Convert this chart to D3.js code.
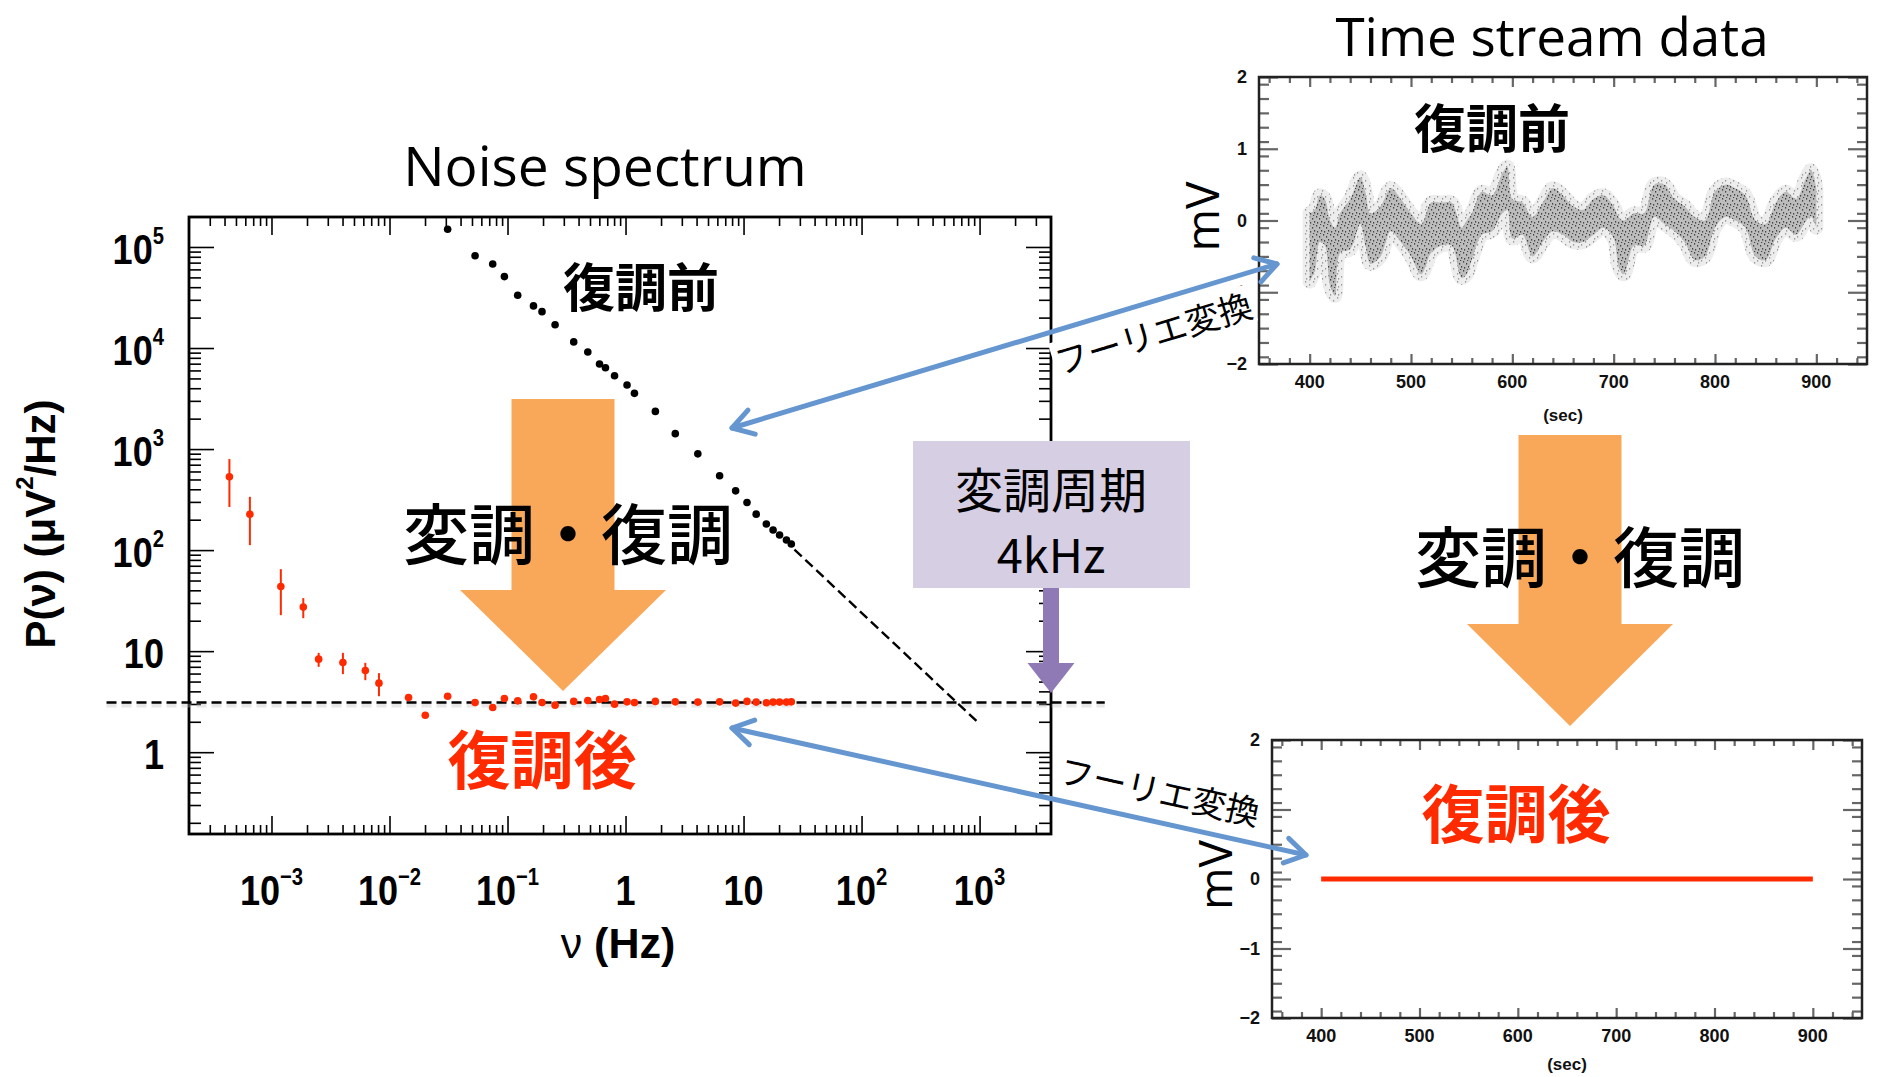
<!DOCTYPE html>
<html>
<head>
<meta charset="utf-8">
<script src="https://cdn.jsdelivr.net/npm/d3@7"></script>
<style>
  body { margin: 0; background: #fff; }
  svg { display: block; }
</style>
</head>
<body>
<script>
// ---------- noise spectrum (left) ----------
const freqHz = [4.4e-4, 6.56e-4, 1.20e-3, 1.86e-3, 2.51e-3, 4.03e-3, 6.24e-3, 8.14e-3, 0.0145, 0.0201,
  0.0311, 0.0531, 0.0749, 0.0941, 0.122, 0.166, 0.196, 0.253, 0.364, 0.479, 0.602, 0.676, 0.807,
  1.03, 1.19, 1.79, 2.64, 4.10, 6.27, 8.57, 10.7, 12.8, 15.6, 17.8, 20.2, 23.1, 25.4];
// after demodulation (red, with error bars on the low-frequency points)
const powerDemod = [532, 226, 43.7, 27.3, 8.33, 7.73, 6.44, 4.82, 3.48, 2.32,
  3.58, 3.10, 2.77, 3.40, 3.22, 3.53, 3.10, 2.92, 3.18, 3.25, 3.32, 3.40, 2.99,
  3.15, 3.10, 3.18, 3.15, 3.13, 3.15, 3.06, 3.18, 3.13, 3.08, 3.13, 3.13, 3.13, 3.15];
const errLo = [267, 112, 22.7, 21.2, 6.99, 5.92, 5.16, 3.58];
const errHi = [796, 337, 64.8, 33.5, 9.62, 9.62, 7.66, 6.06];
// before demodulation (black)
const powerRaw = [null, null, null, null, null, null, null, null, null, null,
  1.50e5, 8.20e4, 6.79e4, 5.09e4, 3.33e4, 2.61e4, 2.29e4, 1.70e4, 1.15e4, 9.12e3, 6.95e3, 6.38e3, 5.32e3,
  4.30e3, 3.56e3, 2.36e3, 1.42e3, 897, 544, 386, 296, 227, 181, 158, 141, 126, 115];
const whiteLevel = 3.1;
const whiteRange = [4e-5, 1.15e4];
const fitNorm = 3800, fitIndex = -1.1;
const fitRange = [27, 950];

const specXTicks = [1e-3, 1e-2, 1e-1, 1, 10, 100, 1000];
const specXLabels = [["10", "−3"], ["10", "−2"], ["10", "−1"], ["1", ""], ["10", ""], ["10", "2"], ["10", "3"]];
const specYTicks = [1e5, 1e4, 1e3, 1e2, 10, 1];
const specYLabels = [["10", "5"], ["10", "4"], ["10", "3"], ["10", "2"], ["10", ""], ["1", ""]];

// ---------- time streams (right) ----------
const rawT  = [400, 405, 410, 415, 420, 425, 430, 440, 450, 455, 460, 470, 480, 490, 500, 510, 520, 530, 540,
  550, 555, 560, 570, 580, 590, 595, 600, 610, 620, 630, 640, 650, 660, 670, 680, 690, 700, 705, 710,
  720, 730, 740, 750, 760, 770, 780, 790, 800, 810, 820, 830, 840, 850, 860, 870, 880, 890, 895, 900];
const rawHi = [0.10, 0.15, 0.35, 0.30, 0.00, -0.10, 0.10, 0.30, 0.60, 0.40, 0.10, 0.20, 0.45, 0.30, 0.10, -0.05, 0.25, 0.25, 0.25,
  -0.10, 0.00, 0.10, 0.40, 0.35, 0.65, 0.75, 0.30, 0.25, 0.05, 0.25, 0.45, 0.35, 0.20, 0.15, 0.30, 0.35, 0.20, 0.05, 0.00,
  0.10, 0.10, 0.50, 0.50, 0.30, 0.20, 0.05, 0.00, 0.40, 0.50, 0.45, 0.35, 0.00, -0.05, 0.25, 0.40, 0.30, 0.60, 0.70, 0.45];
const rawLo = [-0.85, -0.70, -0.30, -0.35, -0.90, -1.05, -0.45, -0.40, -0.05, -0.35, -0.60, -0.50, -0.15, -0.30, -0.50, -0.75, -0.45, -0.35, -0.35,
  -0.80, -0.75, -0.55, -0.20, -0.15, 0.10, 0.15, -0.25, -0.20, -0.50, -0.30, -0.15, -0.20, -0.30, -0.30, -0.20, -0.10, -0.25, -0.65, -0.75,
  -0.35, -0.35, 0.05, -0.05, -0.15, -0.30, -0.55, -0.50, -0.10, 0.05, 0.00, -0.10, -0.50, -0.55, -0.25, -0.10, -0.20, 0.00, 0.05, -0.10];
const demodT = [400, 900];
const demodV = [0, 0];
const timeXTicks = [400, 500, 600, 700, 800, 900];
const timeYTicks = [2, 1, 0, -1, -2];

// ---------- page ----------
const W = 1879, H = 1077;
const RED = "#ff2a00", ORANGE = "#f9a85a", BLUE = "#6596cf", PURPLE = "#8f7ab6", LAVENDER = "#d6cee3";
const SANS = "'Liberation Sans', Arial, sans-serif";
const CJK = "'Noto Sans CJK JP', sans-serif";
const TITLE = "'Open Sans', sans-serif";

const svg = d3.select("body").append("svg").attr("width", W).attr("height", H);

// speckle textures for the raw time stream (dense core and faint halo)
const defs = svg.append("defs");
function speckle(id, w, h, base, dot, dots) {
  const p = defs.append("pattern").attr("id", id).attr("width", w).attr("height", h).attr("patternUnits", "userSpaceOnUse");
  p.append("rect").attr("width", w).attr("height", h).attr("fill", base);
  dots.forEach(([x, y]) => p.append("rect").attr("x", x).attr("y", y).attr("width", 1.2).attr("height", 1.6).attr("fill", dot));
}
speckle("speck", 7, 9, "#b9b9b9", "#3c3c3c", [[0, 0], [3, 2], [5, 5], [1, 6], [4, 8]]);
speckle("halo", 8, 8, "#ededed", "#9a9a9a", [[1, 1], [5, 4], [2, 6]]);

function supText(g, x, y, base, sup, opts) {
  const size = opts.size, sx = opts.sx || 1;
  const t = g.append("text")
    .attr("transform", `translate(${x},${y}) scale(${sx},1)`)
    .attr("text-anchor", opts.anchor || "middle")
    .attr("font-family", SANS).attr("font-weight", "bold")
    .attr("font-size", size).attr("fill", "#000");
  t.append("tspan").text(base);
  if (sup) t.append("tspan").attr("font-size", size * 0.56).attr("dy", -size * 0.47).text(sup);
  return t;
}

// ================= left: noise spectrum =================
const sp = {left: 189, right: 1051, top: 217, bottom: 834};
const specX = d3.scaleLog().domain([2e-4, 4.03e3]).range([sp.left, sp.right]);
const specY = d3.scaleLog().domain([0.155, 1.98e5]).range([sp.bottom, sp.top]);

const minorOf = (lo, hi) => {
  const out = [];
  for (let e = lo; e <= hi; e++) for (let m = 2; m <= 9; m++) out.push(m * Math.pow(10, e));
  return out;
};
const xMinor = minorOf(-4, 3).filter(v => v > 2e-4 && v < 4.03e3);
const yMinor = minorOf(-1, 5).filter(v => v > 0.155 && v < 1.98e5);

const gs = svg.append("g");
const tickStyle = g => g.call(g => g.select(".domain").remove())
  .call(g => g.selectAll(".tick line").attr("stroke", "#000").attr("stroke-width", 1.6))
  .call(g => g.selectAll(".tick text").remove());

gs.append("g").attr("transform", `translate(0,${sp.bottom})`)
  .call(d3.axisBottom(specX).tickValues(specXTicks).tickSize(-18).tickSizeOuter(0)).call(tickStyle);
gs.append("g").attr("transform", `translate(0,${sp.bottom})`)
  .call(d3.axisBottom(specX).tickValues(xMinor).tickSize(-9).tickSizeOuter(0)).call(tickStyle);
gs.append("g").attr("transform", `translate(0,${sp.top})`)
  .call(d3.axisTop(specX).tickValues(specXTicks).tickSize(-18).tickSizeOuter(0)).call(tickStyle);
gs.append("g").attr("transform", `translate(0,${sp.top})`)
  .call(d3.axisTop(specX).tickValues(xMinor).tickSize(-9).tickSizeOuter(0)).call(tickStyle);
gs.append("g").attr("transform", `translate(${sp.left},0)`)
  .call(d3.axisLeft(specY).tickValues(specYTicks).tickSize(-25).tickSizeOuter(0)).call(tickStyle);
gs.append("g").attr("transform", `translate(${sp.left},0)`)
  .call(d3.axisLeft(specY).tickValues(yMinor).tickSize(-12).tickSizeOuter(0)).call(tickStyle);
gs.append("g").attr("transform", `translate(${sp.right},0)`)
  .call(d3.axisRight(specY).tickValues(specYTicks).tickSize(-25).tickSizeOuter(0)).call(tickStyle);
gs.append("g").attr("transform", `translate(${sp.right},0)`)
  .call(d3.axisRight(specY).tickValues(yMinor).tickSize(-12).tickSizeOuter(0)).call(tickStyle);

gs.append("rect").attr("x", sp.left).attr("y", sp.top)
  .attr("width", sp.right - sp.left).attr("height", sp.bottom - sp.top)
  .attr("fill", "none").attr("stroke", "#000").attr("stroke-width", 2.8);

// tick labels
specXTicks.forEach((v, i) => supText(gs, specX(v), 905, specXLabels[i][0], specXLabels[i][1], {size: 43, sx: 0.84}));
specYTicks.forEach((v, i) => supText(gs, 164, specY(v) + 17, specYLabels[i][0], specYLabels[i][1], {size: 43, sx: 0.84, anchor: "end"}));

// axis titles
const xt = gs.append("text").attr("x", 618).attr("y", 958).attr("text-anchor", "middle")
  .attr("font-family", SANS).attr("font-weight", "bold").attr("font-size", 43);
xt.append("tspan").attr("font-weight", "normal").text("ν");
xt.append("tspan").text(" (Hz)");

const yt = gs.append("text").attr("transform", "translate(40,524) rotate(-90)")
  .attr("text-anchor", "middle").attr("dominant-baseline", "central")
  .attr("font-family", SANS).attr("font-weight", "bold").attr("font-size", 42);
yt.append("tspan").text("P(ν) (μV");
yt.append("tspan").attr("font-size", 24).attr("dy", -16).text("2");
yt.append("tspan").attr("dy", 16).text("/Hz)");

// dashed reference lines
gs.append("line")
  .attr("x1", specX(whiteRange[0])).attr("x2", specX(whiteRange[1]))
  .attr("y1", specY(whiteLevel) + 3).attr("y2", specY(whiteLevel) + 3)
  .attr("stroke", "#bbb").attr("stroke-width", 4).attr("stroke-opacity", 0.35).attr("stroke-dasharray", "10,5");
gs.append("line")
  .attr("x1", specX(whiteRange[0])).attr("x2", specX(whiteRange[1]))
  .attr("y1", specY(whiteLevel)).attr("y2", specY(whiteLevel))
  .attr("stroke", "#000").attr("stroke-width", 2.6).attr("stroke-dasharray", "10,5");
const fitLine = d3.line().x(d => specX(d)).y(d => specY(fitNorm * Math.pow(d, fitIndex)));
gs.append("path").attr("d", fitLine(fitRange))
  .attr("fill", "none").attr("stroke", "#000").attr("stroke-width", 2.4).attr("stroke-dasharray", "10,5");

// black points (before demodulation)
gs.append("g").selectAll("circle")
  .data(freqHz.map((f, i) => ({f, p: powerRaw[i]})).filter(d => d.p !== null))
  .join("circle")
  .attr("cx", d => specX(d.f)).attr("cy", d => specY(d.p)).attr("r", 3.8).attr("fill", "#000");

// red points (after demodulation)
gs.append("g").selectAll("line")
  .data(errLo.map((lo, i) => ({f: freqHz[i], lo, hi: errHi[i]})))
  .join("line")
  .attr("x1", d => specX(d.f)).attr("x2", d => specX(d.f))
  .attr("y1", d => specY(d.lo)).attr("y2", d => specY(d.hi))
  .attr("stroke", RED).attr("stroke-width", 2);
gs.append("g").selectAll("circle")
  .data(freqHz.map((f, i) => ({f, p: powerDemod[i]})))
  .join("circle")
  .attr("cx", d => specX(d.f)).attr("cy", d => specY(d.p)).attr("r", 3.8).attr("fill", RED);

// ================= right: time streams =================
function timePanel(box, secDy, drawData) {
  const g = svg.append("g");
  const x = d3.scaleLinear().domain([350, 950]).range([box.left, box.right]);
  const y = d3.scaleLinear().domain([-2, 2]).range([box.bottom, box.top]);
  const xMin = d3.range(360, 950, 20).filter(v => v % 100 !== 0);
  const yMin = d3.range(-19, 20, 2).map(v => v / 10).filter(v => Math.abs(v % 1) > 0.01);
  const st = g2 => g2.call(a => a.select(".domain").remove())
    .call(a => a.selectAll(".tick line").attr("stroke", "#666").attr("stroke-width", 2.2))
    .call(a => a.selectAll(".tick text").remove());
  [[d3.axisBottom, box.bottom], [d3.axisTop, box.top]].forEach(([ax, pos]) => {
    g.append("g").attr("transform", `translate(0,${pos})`).call(ax(x).tickValues(timeXTicks).tickSize(-10).tickSizeOuter(0)).call(st);
    g.append("g").attr("transform", `translate(0,${pos})`).call(ax(x).tickValues(xMin).tickSize(-6).tickSizeOuter(0)).call(st);
  });
  [[d3.axisLeft, box.left], [d3.axisRight, box.right]].forEach(([ax, pos]) => {
    g.append("g").attr("transform", `translate(${pos},0)`).call(ax(y).tickValues(timeYTicks).tickSize(-19).tickSizeOuter(0)).call(st);
    g.append("g").attr("transform", `translate(${pos},0)`).call(ax(y).tickValues(yMin).tickSize(-10).tickSizeOuter(0)).call(st);
  });
  drawData(g, x, y);
  g.append("rect").attr("x", box.left).attr("y", box.top)
    .attr("width", box.right - box.left).attr("height", box.bottom - box.top)
    .attr("fill", "none").attr("stroke", "#222").attr("stroke-width", 2.5);
  g.selectAll(".xl").data(timeXTicks).join("text")
    .attr("x", d => x(d)).attr("y", box.bottom + 24).attr("text-anchor", "middle")
    .attr("font-family", SANS).attr("font-weight", "bold").attr("font-size", 18).attr("fill", "#111")
    .text(d => d);
  g.selectAll(".yl").data(timeYTicks).join("text")
    .attr("x", box.left - 12).attr("y", d => y(d) + 6).attr("text-anchor", "end")
    .attr("font-family", SANS).attr("font-weight", "bold").attr("font-size", 18).attr("fill", "#111")
    .text(d => d < 0 ? "−" + Math.abs(d) : d);
  g.append("text").attr("x", x(650)).attr("y", box.bottom + secDy).attr("text-anchor", "middle")
    .attr("font-family", SANS).attr("font-weight", "bold").attr("font-size", 17).attr("fill", "#111")
    .text("(sec)");
  g.append("text").attr("transform", `translate(${box.left - 58},${(box.top + box.bottom) / 2 - 4}) rotate(-90)`)
    .attr("text-anchor", "middle").attr("dominant-baseline", "central")
    .attr("font-family", TITLE).attr("font-size", 46).attr("fill", "#000").text("mV");
  return g;
}

timePanel({left: 1259, right: 1867, top: 77, bottom: 364}, 57, (g, x, y) => {
  const band = rawT.map((t, i) => ({t, lo: rawLo[i], hi: rawHi[i]}));
  const area = d3.area().x(d => x(d.t)).y0(d => y(d.lo)).y1(d => y(d.hi)).curve(d3.curveCatmullRom);
  g.append("path").attr("d", area(band))
    .attr("fill", "none").attr("stroke", "url(#halo)").attr("stroke-width", 14).attr("stroke-linejoin", "round");
  g.append("path").attr("d", area(band))
    .attr("fill", "url(#speck)").attr("fill-opacity", 0.95);
});

timePanel({left: 1272, right: 1862, top: 740, bottom: 1018}, 52, (g, x, y) => {
  const line = d3.line().x(d => x(d.t)).y(d => y(d.v));
  g.append("path").attr("d", line(demodT.map((t, i) => ({t, v: demodV[i]}))))
    .attr("fill", "none").attr("stroke", RED).attr("stroke-width", 5);
});

// ================= annotations =================
const ann = svg.append("g");

// titles
ann.append("text").attr("x", 605).attr("y", 186).attr("text-anchor", "middle")
  .attr("font-family", TITLE).attr("font-size", 55).text("Noise spectrum");
ann.append("text").attr("x", 1552).attr("y", 56).attr("text-anchor", "middle")
  .attr("font-family", TITLE).attr("font-size", 53).text("Time stream data");

// orange arrows with 変調・復調
function bigArrow(cx, top, headY, tip, shaftW, headW) {
  const pts = [[cx - shaftW / 2, top], [cx + shaftW / 2, top], [cx + shaftW / 2, headY], [cx + headW / 2, headY],
    [cx, tip], [cx - headW / 2, headY], [cx - shaftW / 2, headY]];
  return pts.map(p => p.join(",")).join(" ");
}
ann.append("polygon").attr("points", bigArrow(563, 399, 590, 691, 103, 206)).attr("fill", ORANGE);
ann.append("polygon").attr("points", bigArrow(1570, 435, 624, 726, 103, 206)).attr("fill", ORANGE);
[[568, 530], [1580, 553]].forEach(([x, y]) => ann.append("text").attr("x", x).attr("y", y)
  .attr("text-anchor", "middle").attr("dominant-baseline", "central")
  .attr("font-family", CJK).attr("font-weight", 500).attr("font-size", 66).text("変調・復調"));

// 復調前 / 復調後
[[641, 284], [1492, 125]].forEach(([x, y]) => ann.append("text").attr("x", x).attr("y", y)
  .attr("text-anchor", "middle").attr("dominant-baseline", "central")
  .attr("font-family", CJK).attr("font-weight", 700).attr("font-size", 52).text("復調前"));
[[542, 755], [1516, 809]].forEach(([x, y]) => ann.append("text").attr("x", x).attr("y", y)
  .attr("text-anchor", "middle").attr("dominant-baseline", "central")
  .attr("font-family", CJK).attr("font-weight", 700).attr("font-size", 63).attr("fill", RED).text("復調後"));

// modulation period box + purple arrow
ann.append("rect").attr("x", 913).attr("y", 441).attr("width", 277).attr("height", 147).attr("fill", LAVENDER);
ann.append("text").attr("x", 1051).attr("y", 487).attr("text-anchor", "middle").attr("dominant-baseline", "central")
  .attr("font-family", CJK).attr("font-size", 48).text("変調周期");
ann.append("text").attr("x", 1051).attr("y", 552).attr("text-anchor", "middle").attr("dominant-baseline", "central")
  .attr("font-family", CJK).attr("font-size", 47).text("4kHz");
ann.append("polygon").attr("points", bigArrow(1051, 588, 663, 693, 16, 47)).attr("fill", PURPLE);

// Fourier transform labels (white backing) and blue double arrows
function ftLabel(cx, cy, angle) {
  const g = ann.append("g").attr("transform", `translate(${cx},${cy}) rotate(${angle})`);
  g.append("rect").attr("x", -104).attr("y", -19).attr("width", 208).attr("height", 38).attr("fill", "#fff");
  g.append("text").attr("text-anchor", "middle").attr("dominant-baseline", "central")
    .attr("font-family", CJK).attr("font-size", 34).text("フーリエ変換");
}
ftLabel(1153, 332, -16.8);
ftLabel(1160, 790, 12.4);

function doubleArrow(x1, y1, x2, y2) {
  const g = ann.append("g").attr("fill", "none").attr("stroke", BLUE).attr("stroke-width", 5)
    .attr("stroke-linecap", "round").attr("stroke-linejoin", "round");
  g.append("line").attr("x1", x1).attr("y1", y1).attr("x2", x2).attr("y2", y2);
  const head = (tx, ty, fx, fy) => {
    const a = Math.atan2(fy - ty, fx - tx), L = 24, s = 0.55;
    const p1 = [tx + L * Math.cos(a - s), ty + L * Math.sin(a - s)];
    const p2 = [tx + L * Math.cos(a + s), ty + L * Math.sin(a + s)];
    g.append("polyline").attr("points", `${p1.join(",")} ${tx},${ty} ${p2.join(",")}`);
  };
  head(x1, y1, x2, y2);
  head(x2, y2, x1, y1);
}
doubleArrow(732, 428, 1277, 264);
doubleArrow(732, 728, 1306, 855);
</script>
</body>
</html>
